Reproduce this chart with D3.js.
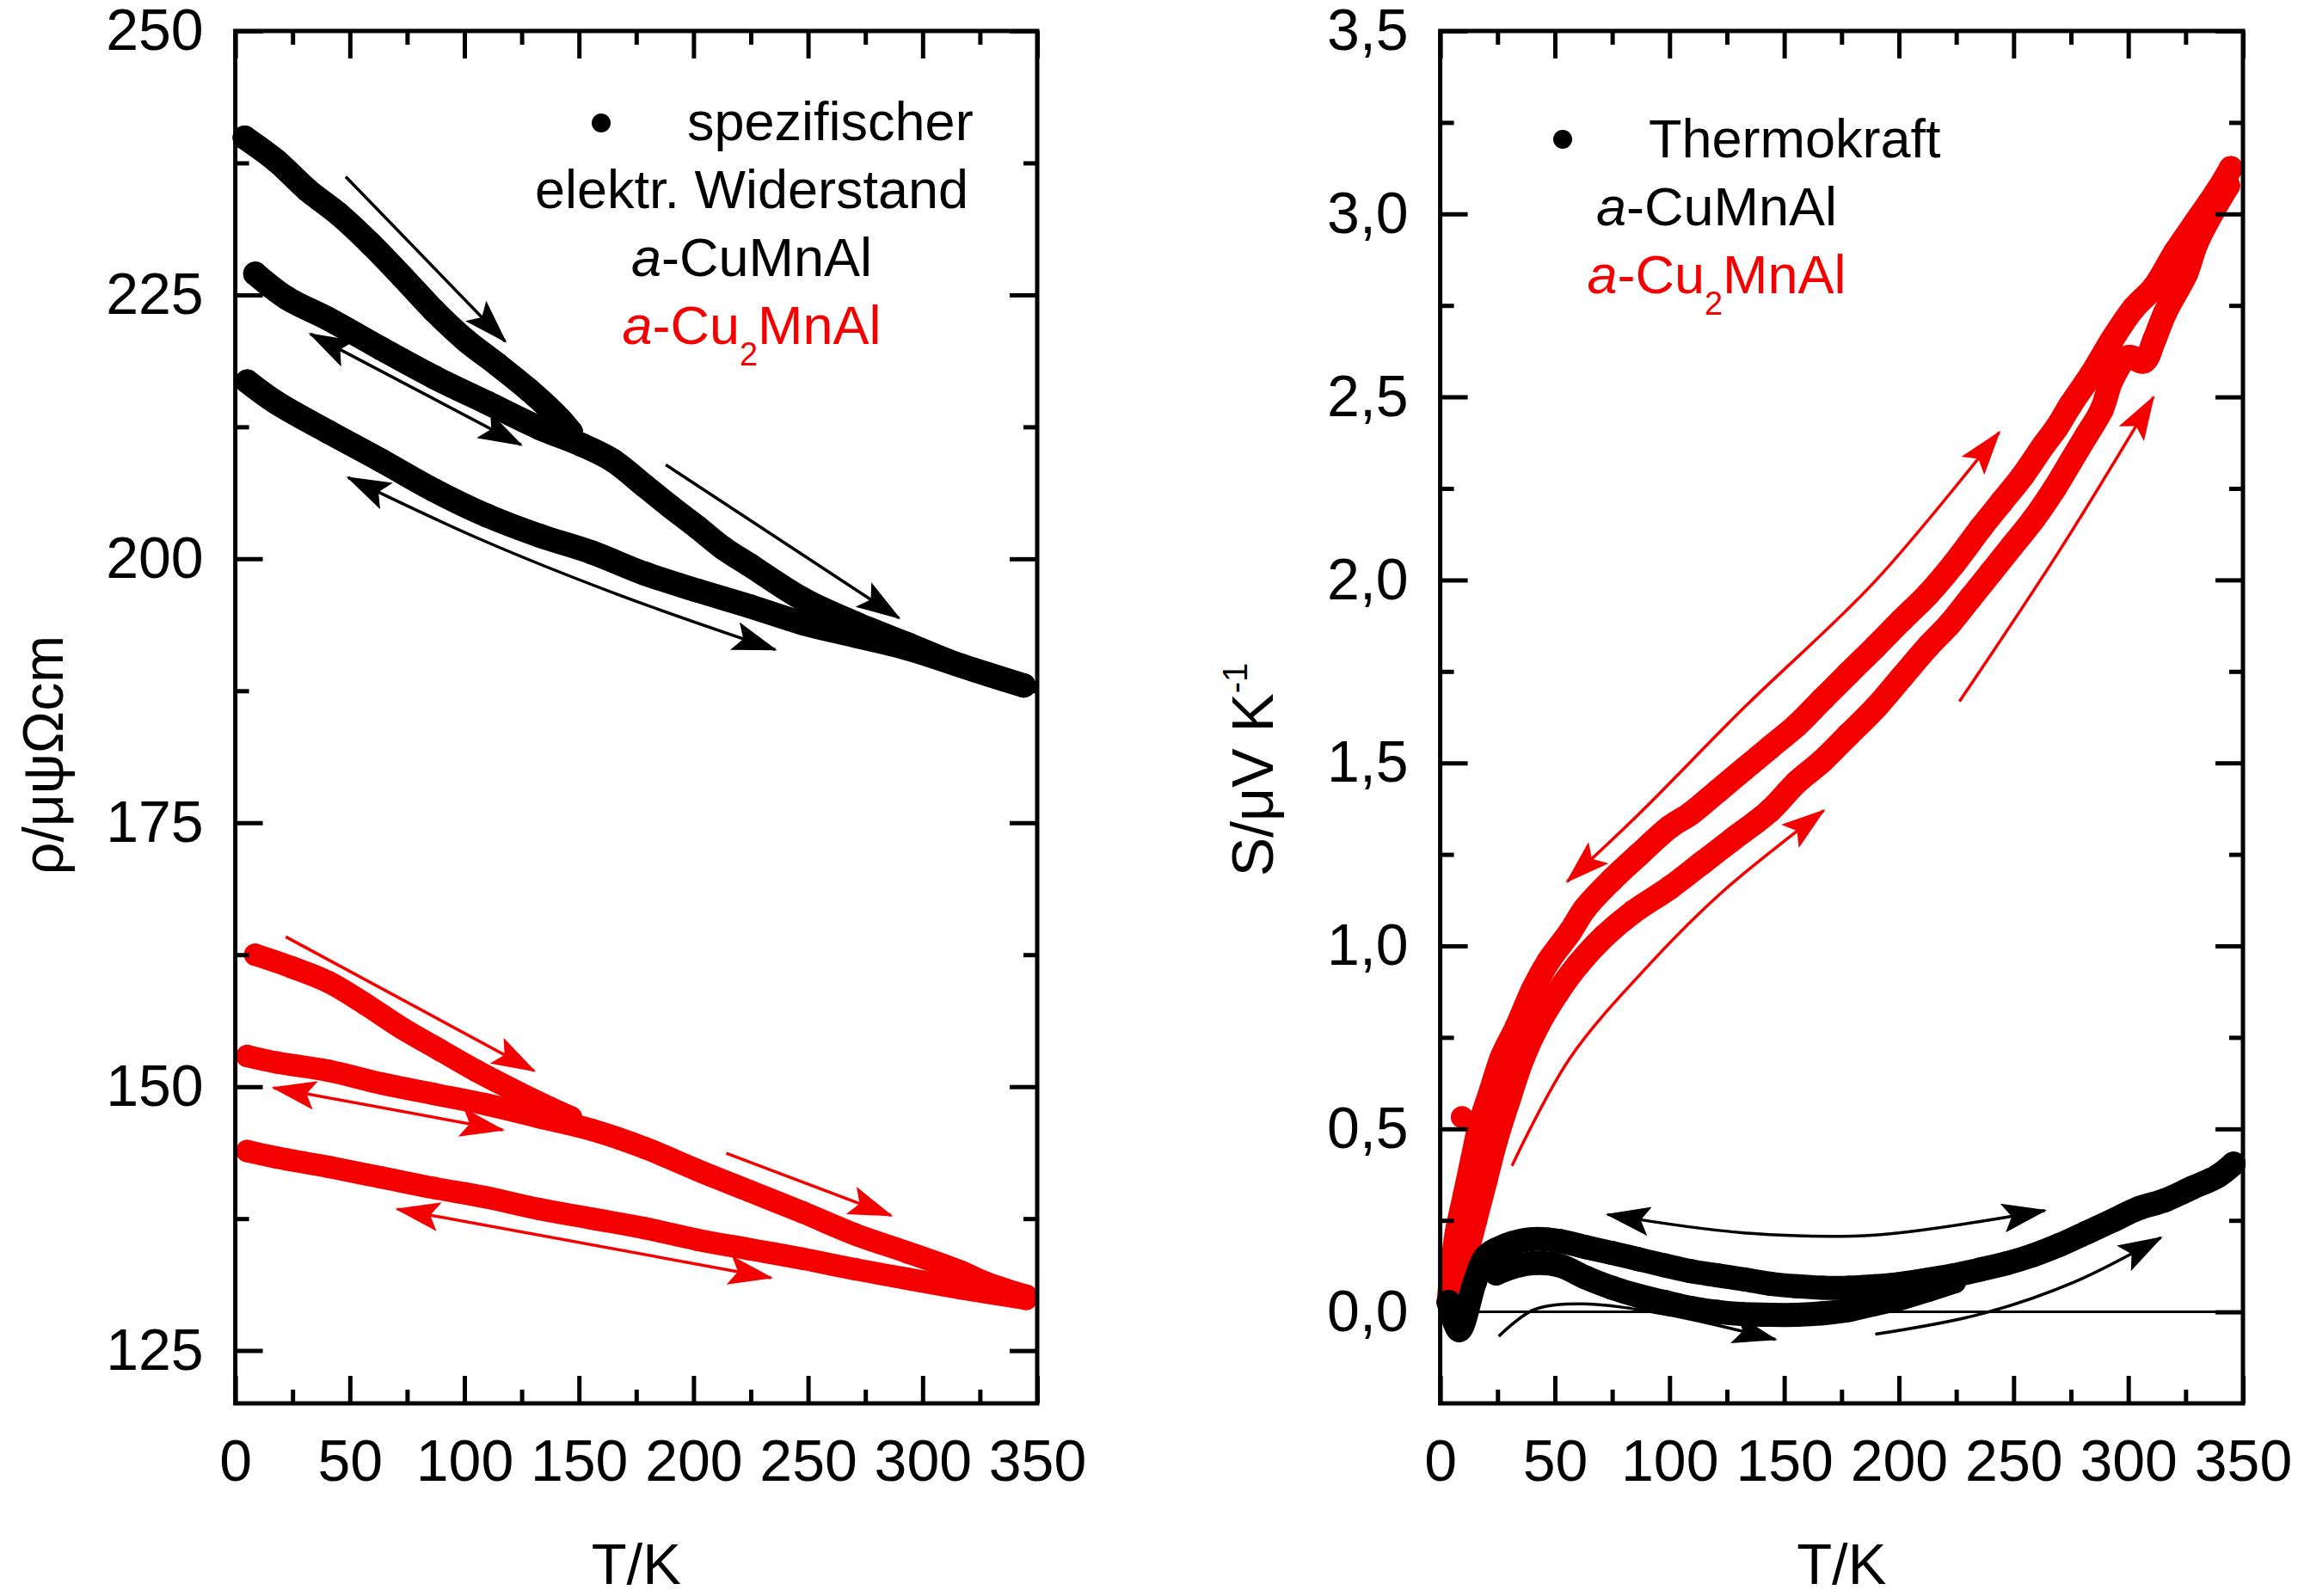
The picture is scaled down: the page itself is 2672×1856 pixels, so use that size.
<!DOCTYPE html>
<html lang="de">
<head>
<meta charset="UTF-8">
<title>Widerstand und Thermokraft</title>
<script src="https://d3js.org/d3.v7.min.js"></script>
<style>
  html, body { margin: 0; padding: 0; background: #fff; }
  svg text { font-family: "Liberation Sans", Arial, sans-serif; fill: #000; }
  .tick text { font-size: 68px; }
  .tick line { stroke: #000; stroke-width: 5; }
  .domain { display: none; }
</style>
</head>
<body>
<svg id="chart" width="2672" height="1856"></svg>
<script>
// ---------- data ----------
// x ticks (both panels)
var tMajor = [0, 50, 100, 150, 200, 250, 300, 350];
var tMinor = [25, 75, 125, 175, 225, 275, 325];

// left panel: resistivity rho / µΩcm
var rhoMajor = [125, 150, 175, 200, 225, 250];
var rhoMinor = [137.5, 162.5, 187.5, 212.5, 237.5];

// a-CuMnAl (black), three branches
var tBlackA = [4.1, 17.9, 31.7, 45.4, 59.2, 73.0, 86.8, 100.6, 114.4, 128.1, 141.9, 146.5];
var rhoBlackA = [239.9, 237.7, 234.9, 232.6, 229.8, 226.7, 223.5, 220.7, 218.4, 216.0, 213.2, 212.0];
var tBlackB = [8.7, 22.5, 40.8, 63.8, 86.8, 109.8, 132.7, 151.1, 164.9, 178.7, 190.2, 201.6, 213.1, 224.6, 247.6, 270.6, 293.5, 316.5, 344.1];
var rhoBlackB = [227.0, 224.7, 222.7, 219.9, 217.2, 214.8, 212.4, 210.8, 209.3, 206.9, 204.9, 203.0, 201.0, 199.4, 196.2, 193.9, 191.9, 189.9, 188.0];
var tBlackC = [5.2, 17.9, 40.8, 63.8, 86.8, 109.8, 132.7, 155.7, 178.7, 201.6, 224.6, 247.6, 270.6, 293.5, 316.5, 344.1];
var rhoBlackC = [216.8, 214.8, 212.0, 209.3, 206.5, 204.1, 202.2, 200.6, 198.6, 197.0, 195.5, 193.9, 192.7, 191.5, 189.9, 188.0];

// a-Cu2MnAl (red), three branches
var tRedA = [8.7, 24.8, 40.8, 56.9, 73.0, 89.1, 105.2, 121.2, 137.3, 146.5];
var rhoRedA = [162.5, 161.3, 159.9, 157.8, 155.5, 153.5, 151.5, 149.7, 148.0, 147.1];
var tRedB = [5.2, 17.9, 40.8, 63.8, 86.8, 109.8, 132.7, 155.7, 178.7, 201.6, 224.6, 247.6, 270.6, 293.5, 316.5, 328.0, 345.2];
var rhoRedB = [152.9, 152.3, 151.5, 150.3, 149.3, 148.3, 147.1, 145.9, 144.2, 142.1, 140.1, 138.1, 136.0, 134.3, 132.5, 131.4, 130.2];
var tRedC = [5.2, 17.9, 40.8, 63.8, 86.8, 109.8, 132.7, 155.7, 178.7, 201.6, 224.6, 247.6, 270.6, 293.5, 316.5, 345.2];
var rhoRedC = [143.9, 143.3, 142.4, 141.4, 140.4, 139.5, 138.4, 137.5, 136.6, 135.5, 134.6, 133.7, 132.7, 131.8, 130.9, 129.9];

// right panel: thermopower S / µV K^-1
var sMajor = [0, 0.5, 1.0, 1.5, 2.0, 2.5, 3.0, 3.5];
var sMinor = [0.25, 0.75, 1.25, 1.75, 2.25, 2.75, 3.25];

var tSRedDown = [344.7, 339.0, 329.8, 320.6, 311.4, 302.2, 293.0, 283.8, 274.7, 268.9, 263.2, 254.0, 244.8, 235.6, 224.1, 212.7, 201.2, 189.7, 178.2, 166.7, 155.3, 143.8, 132.3, 120.8, 109.3, 100.1, 86.4, 74.9, 63.4, 56.5, 47.3, 40.5, 33.6, 26.7, 22.1, 17.5, 14.0, 10.6, 7.2, 4.9, 3.7];
var sRedDown = [3.125, 3.065, 2.981, 2.897, 2.801, 2.741, 2.657, 2.561, 2.477, 2.417, 2.369, 2.285, 2.213, 2.141, 2.045, 1.961, 1.890, 1.817, 1.746, 1.674, 1.602, 1.542, 1.482, 1.422, 1.362, 1.325, 1.248, 1.181, 1.104, 1.037, 0.959, 0.882, 0.782, 0.693, 0.604, 0.516, 0.416, 0.316, 0.216, 0.105, 0.027];
var tSRedUp = [6.0, 10.6, 15.2, 19.8, 24.4, 30.0, 36.0, 42.5, 51.0, 60.0, 71.5, 84.0, 100.1, 114.0, 127.7, 143.8, 155.3, 166.7, 178.2, 189.7, 201.2, 212.7, 221.9, 231.0, 240.2, 249.4, 258.6, 267.8, 274.7, 281.6, 288.4, 293.0, 300.0, 306.8, 311.4, 316.0, 325.2, 329.8, 336.7, 343.5];
var sRedUp = [0.039, 0.138, 0.249, 0.360, 0.471, 0.582, 0.693, 0.782, 0.871, 0.948, 1.026, 1.092, 1.159, 1.226, 1.292, 1.370, 1.446, 1.506, 1.578, 1.650, 1.734, 1.818, 1.878, 1.949, 2.021, 2.093, 2.165, 2.249, 2.321, 2.393, 2.465, 2.549, 2.609, 2.597, 2.657, 2.729, 2.837, 2.921, 3.005, 3.077];
var tSRedStray = [9.5];
var sRedStray = [0.532];

var tSBlackUpper = [3.7, 8.3, 15.2, 19.8, 29.0, 40.5, 51.9, 63.4, 74.9, 86.4, 97.9, 109.3, 120.8, 132.3, 143.8, 155.3, 166.7, 178.2, 189.7, 201.2, 212.7, 224.1, 235.6, 247.1, 258.6, 270.1, 281.6, 293.0, 304.5, 316.0, 327.5, 339.0, 345.9];
var sBlackUpper = [0.027, -0.050, 0.083, 0.150, 0.183, 0.199, 0.194, 0.177, 0.161, 0.144, 0.127, 0.111, 0.100, 0.089, 0.077, 0.070, 0.066, 0.066, 0.070, 0.077, 0.088, 0.100, 0.116, 0.133, 0.155, 0.183, 0.216, 0.249, 0.283, 0.305, 0.338, 0.371, 0.405];
var tSBlackLower = [24.4, 31.3, 40.5, 51.9, 63.4, 74.9, 86.4, 97.9, 109.3, 120.8, 132.3, 143.8, 155.3, 166.7, 178.2, 189.7, 201.2, 212.7, 224.1];
var sBlackLower = [0.105, 0.122, 0.133, 0.127, 0.094, 0.066, 0.044, 0.027, 0.011, 0.000, -0.006, -0.008, -0.008, -0.004, 0.005, 0.022, 0.038, 0.060, 0.083];

// hysteresis arrows, in data units [T, value]; heads: "end" or "both"
var arrowsLeft = [
  {pts: [[48.2, 236.2], [117.8, 220.6]], heads: "end", color: "black"},
  {pts: [[32.8, 221.3], [124.7, 210.8]], heads: "both", color: "black"},
  {pts: [[187.9, 208.9], [289.6, 194.4]], heads: "end", color: "black"},
  {pts: [[49.3, 207.7], [107.5, 201.8], [167.2, 196.6], [235.6, 191.4]], heads: "both", color: "black"},
  {pts: [[22.0, 164.2], [130.4, 151.5]], heads: "end", color: "red"},
  {pts: [[16.7, 149.9], [116.7, 145.9]], heads: "both", color: "red"},
  {pts: [[214.3, 143.7], [286.2, 137.8]], heads: "end", color: "red"},
  {pts: [[70.7, 138.4], [233.8, 131.9]], heads: "both", color: "red"}
];
var arrowsRight = [
  {pts: [[55.4, 1.176], [86.4, 1.359], [132.3, 1.650], [189.7, 1.997], [243.7, 2.403]], heads: "both", color: "red"},
  {pts: [[226.4, 1.668], [270.1, 2.081], [310.9, 2.499]], heads: "end", color: "red"},
  {pts: [[31.3, 0.399], [56.5, 0.693], [91.0, 0.948], [123.1, 1.148], [167.2, 1.370]], heads: "end", color: "red"},
  {pts: [[73.0, 0.266], [132.3, 0.216], [189.7, 0.210], [263.6, 0.277]], heads: "both", color: "black"},
  {pts: [[25.5, -0.067], [40.5, 0.005], [61.1, 0.022], [97.9, -0.006], [146.1, -0.075]], heads: "end", color: "black"},
  {pts: [[189.7, -0.061], [235.6, -0.006], [276.9, 0.083], [314.2, 0.203]], heads: "end", color: "black"}
];

// ---------- drawing ----------
var RED = "#f40000";
var colors = {black: "#000", red: RED};
var svg = d3.select("#chart");

var plotTop = 36, plotBottom = 1632;
var xL = d3.scaleLinear().domain([0, 350]).range([273.6, 1206]);
var yL = d3.scaleLinear().domain([120, 250]).range([plotBottom, plotTop]);
var xR = d3.scaleLinear().domain([0, 350]).range([1674.6, 2608]);
var yR = d3.scaleLinear().domain([-0.25, 3.5]).range([plotBottom, plotTop]);

var commaFmt = d3.formatLocale({decimal: ",", thousands: ".", grouping: [3], currency: ["", "€"]}).format(".1f");

var defs = svg.append("defs");
Object.keys(colors).forEach(function(k) {
  defs.append("marker")
    .attr("id", "head-" + k)
    .attr("viewBox", "0 0 10 10")
    .attr("refX", 9.5).attr("refY", 5)
    .attr("markerWidth", 52).attr("markerHeight", 34)
    .attr("markerUnits", "userSpaceOnUse")
    .attr("preserveAspectRatio", "none")
    .attr("orient", "auto-start-reverse")
    .append("path")
    .attr("d", "M0,0 L10,5 L0,10 L2,5 z")
    .attr("fill", colors[k]);
});

function frame(x, y, yMaj, yMin, yFmt) {
  var g = svg.append("g");
  var x0 = x.range()[0], x1 = x.range()[1];
  var yb = y.range()[0], yt = y.range()[1];
  g.append("g").attr("transform", "translate(0," + yb + ")")
    .call(d3.axisBottom(x).tickValues(tMajor).tickSize(-32).tickSizeOuter(0).tickPadding(42).tickFormat(d3.format("d")));
  g.append("g").attr("transform", "translate(0," + yb + ")")
    .call(d3.axisBottom(x).tickValues(tMinor).tickSize(-16).tickSizeOuter(0).tickFormat(""));
  g.append("g").attr("transform", "translate(0," + yt + ")")
    .call(d3.axisTop(x).tickValues(tMajor).tickSize(-32).tickSizeOuter(0).tickFormat(""));
  g.append("g").attr("transform", "translate(0," + yt + ")")
    .call(d3.axisTop(x).tickValues(tMinor).tickSize(-16).tickSizeOuter(0).tickFormat(""));
  g.append("g").attr("transform", "translate(" + x0 + ",0)")
    .call(d3.axisLeft(y).tickValues(yMaj).tickSize(-32).tickSizeOuter(0).tickPadding(37).tickFormat(yFmt));
  g.append("g").attr("transform", "translate(" + x0 + ",0)")
    .call(d3.axisLeft(y).tickValues(yMin).tickSize(-16).tickSizeOuter(0).tickFormat(""));
  g.append("g").attr("transform", "translate(" + x1 + ",0)")
    .call(d3.axisRight(y).tickValues(yMaj).tickSize(-32).tickSizeOuter(0).tickFormat(""));
  g.append("g").attr("transform", "translate(" + x1 + ",0)")
    .call(d3.axisRight(y).tickValues(yMin).tickSize(-16).tickSizeOuter(0).tickFormat(""));
  g.selectAll("g").attr("font-size", null).attr("font-family", null);
  g.append("rect")
    .attr("x", x0).attr("y", yt)
    .attr("width", x1 - x0).attr("height", yb - yt)
    .attr("fill", "none").attr("stroke", "#000").attr("stroke-width", 5);
  g.append("text")
    .attr("x", (x0 + x1) / 2).attr("y", 1842)
    .attr("text-anchor", "middle").attr("font-size", 67)
    .text("T/K");
}

function band(g, x, y, T, v, color, r) {
  var pts = d3.zip(T, v);
  var line = d3.line().x(function(d) { return x(d[0]); }).y(function(d) { return y(d[1]); })
    .curve(d3.curveCatmullRom.alpha(0.5));
  g.append("path").datum(pts).attr("d", line)
    .attr("fill", "none").attr("stroke", color).attr("stroke-width", 2 * r)
    .attr("stroke-linecap", "round").attr("stroke-linejoin", "round");
  g.selectAll(null).data(pts).enter().append("circle")
    .attr("cx", function(d) { return x(d[0]); })
    .attr("cy", function(d) { return y(d[1]); })
    .attr("r", r).attr("fill", color);
}

function arrows(g, x, y, list) {
  var line = d3.line().x(function(d) { return x(d[0]); }).y(function(d) { return y(d[1]); })
    .curve(d3.curveCatmullRom.alpha(0.5));
  list.forEach(function(a) {
    var p = g.append("path").datum(a.pts).attr("d", line)
      .attr("fill", "none").attr("stroke", colors[a.color]).attr("stroke-width", 3.5)
      .attr("marker-end", "url(#head-" + a.color + ")");
    if (a.heads === "both") p.attr("marker-start", "url(#head-" + a.color + ")");
  });
}

// left panel
var gL = svg.append("g");
band(gL, xL, yL, tBlackA, rhoBlackA, "#000", 14);
band(gL, xL, yL, tBlackB, rhoBlackB, "#000", 14);
band(gL, xL, yL, tBlackC, rhoBlackC, "#000", 14);
band(gL, xL, yL, tRedA, rhoRedA, RED, 13);
band(gL, xL, yL, tRedB, rhoRedB, RED, 13);
band(gL, xL, yL, tRedC, rhoRedC, RED, 13);
arrows(gL, xL, yL, arrowsLeft);
frame(xL, yL, rhoMajor, rhoMinor, d3.format("d"));

// right panel
var gR = svg.append("g");
gR.append("line")
  .attr("x1", xR(0)).attr("x2", xR(350))
  .attr("y1", yR(0)).attr("y2", yR(0))
  .attr("stroke", "#000").attr("stroke-width", 3);
band(gR, xR, yR, tSRedDown, sRedDown, RED, 14);
band(gR, xR, yR, tSRedUp, sRedUp, RED, 14);
gR.selectAll(null).data(d3.zip(tSRedStray, sRedStray)).enter().append("circle")
  .attr("cx", function(d) { return xR(d[0]); })
  .attr("cy", function(d) { return yR(d[1]); })
  .attr("r", 13).attr("fill", RED);
band(gR, xR, yR, tSBlackUpper, sBlackUpper, "#000", 14);
band(gR, xR, yR, tSBlackLower, sBlackLower, "#000", 14);
arrows(gR, xR, yR, arrowsRight);
frame(xR, yR, sMajor, sMinor, commaFmt);

// axis titles
svg.append("text")
  .attr("transform", "translate(73,878) rotate(-90)")
  .attr("text-anchor", "middle").attr("font-size", 66)
  .text("ρ/μψΩcm");
var yTitle = svg.append("text")
  .attr("transform", "translate(1480,895) rotate(-90)")
  .attr("text-anchor", "middle").attr("font-size", 68);
yTitle.append("tspan").text("S/μV K");
yTitle.append("tspan").attr("font-size", 40).attr("dy", -30).text("-1");

// legends
function legend(dotX, dotY, firstX, firstY, first, cx, y2, lines) {
  svg.append("circle").attr("cx", dotX).attr("cy", dotY).attr("r", 11).attr("fill", "#000");
  svg.append("text").attr("x", firstX).attr("y", firstY).attr("font-size", 63).text(first);
  lines.forEach(function(l, i) {
    var t = svg.append("text").attr("x", cx).attr("y", y2 + i * 79.3)
      .attr("text-anchor", "middle").attr("font-size", 63)
      .style("fill", l.color);
    l.parts.forEach(function(p) {
      var s = t.append("tspan").text(p.s);
      if (p.it) s.attr("font-style", "italic");
      if (p.sub) s.attr("font-size", 38).attr("dy", 25);
      if (p.back) s.attr("dy", -25);
    });
  });
}
var cuMnAl = {color: "#000", parts: [{s: "a", it: true}, {s: "-CuMnAl"}]};
var cu2MnAl = {color: RED, parts: [{s: "a", it: true}, {s: "-Cu"}, {s: "2", sub: true}, {s: "MnAl", back: true}]};
legend(699, 143, 799, 163, "spezifischer", 874, 241.7,
  [{color: "#000", parts: [{s: "elektr. Widerstand"}]}, cuMnAl, cu2MnAl]);
legend(1817, 162, 1917, 183, "Thermokraft", 1996, 261.7, [cuMnAl, cu2MnAl]);
</script>
</body>
</html>
